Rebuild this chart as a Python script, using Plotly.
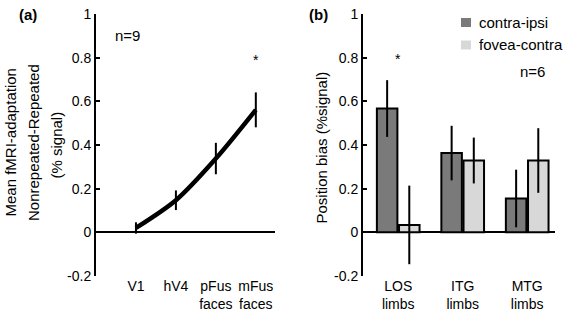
import plotly.graph_objects as go

# ---- Panel (a) data ----
regions_a = ["V1", "hV4", "pFus<br>faces", "mFus<br>faces"]
adapt_mean = [0.02, 0.147, 0.338, 0.561]
adapt_err = [0.026, 0.045, 0.072, 0.08]

# ---- Panel (b) data ----
regions_b = ["LOS<br>limbs", "ITG<br>limbs", "MTG<br>limbs"]
contra_ipsi = [0.567, 0.363, 0.155]
contra_ipsi_err = [0.13, 0.125, 0.132]
fovea_contra = [0.034, 0.329, 0.329]
fovea_contra_err = [0.18, 0.105, 0.148]

ytick_vals = [-0.2, 0, 0.2, 0.4, 0.6, 0.8, 1]
ytick_text = ["-0.2", "0", "0.2", "0.4", "0.6", "0.8", "1"]

W, H = 568, 313
FONT = "Liberation Sans, Arial, Helvetica, sans-serif"
DARK = "#7a7a7a"
LIGHT = "#d8d8d8"

def px(x):
    return x / W

def py(y):
    return 1 - y / H

fig = go.Figure()

fig.add_trace(go.Scatter(
    x=[1, 2, 3, 4], y=adapt_mean, mode="lines",
    line=dict(color="black", width=4.5, shape="spline", smoothing=0.8),
    error_y=dict(type="data", array=adapt_err, color="black", thickness=2, width=0),
    xaxis="x", yaxis="y", showlegend=False, hoverinfo="skip",
))

fig.add_trace(go.Bar(
    x=regions_b, y=contra_ipsi, name="contra-ipsi",
    marker=dict(color=DARK, line=dict(color="black", width=2)),
    error_y=dict(type="data", array=contra_ipsi_err, color="black", thickness=2, width=0),
    xaxis="x2", yaxis="y2", showlegend=False, hoverinfo="skip",
))
fig.add_trace(go.Bar(
    x=regions_b, y=fovea_contra, name="fovea-contra",
    marker=dict(color=LIGHT, line=dict(color="black", width=2)),
    error_y=dict(type="data", array=fovea_contra_err, color="black", thickness=2, width=0),
    xaxis="x2", yaxis="y2", showlegend=False, hoverinfo="skip",
))

ydom = [py(276), py(14)]
yax = dict(
    range=[-0.2, 1], domain=ydom, showgrid=False, automargin=False,
    showline=True, linecolor="black", linewidth=2,
    ticks="inside", ticklen=4, tickwidth=2, tickcolor="black",
    tickvals=ytick_vals, ticktext=ytick_text,
    zeroline=True, zerolinecolor="black", zerolinewidth=2,
    tickfont=dict(size=14, color="black", family=FONT),
)

fig.update_layout(
    width=W, height=H,
    margin=dict(l=0, r=0, t=0, b=0),
    paper_bgcolor="white", plot_bgcolor="white",
    font=dict(family=FONT, size=15, color="black"),
    barmode="group", bargap=0.313, bargroupgap=0.074,
    xaxis=dict(
        domain=[px(96), px(275)], range=[0, 4.48], anchor="y", automargin=False,
        tickvals=[1, 2, 3, 4], ticktext=regions_a,
        showgrid=False, zeroline=False, showline=False, ticks="",
        tickfont=dict(size=14, color="black", family=FONT),
    ),
    yaxis=dict(anchor="x", **yax),
    xaxis2=dict(
        domain=[px(363), px(555)], range=[-0.546, 2.431], anchor="y2",
        type="category", automargin=False,
        showgrid=False, zeroline=False, showline=False, ticks="",
        tickfont=dict(size=14, color="black", family=FONT),
    ),
    yaxis2=dict(anchor="x2", **yax),
)

ann = []
# y-axis titles (panel a)
for txt, xc, yc in [("Mean fMRI-adaptation", 9.5, 143),
                    ("Nonrepeated-Repeated", 33, 143),
                    ("(% signal)", 55.5, 145)]:
    ann.append(dict(text=txt, xref="paper", yref="paper", x=px(xc), y=py(yc),
                    xanchor="center", yanchor="middle", textangle=-90,
                    showarrow=False, font=dict(size=15)))
ann.append(dict(text="Position bias (%signal)", xref="paper", yref="paper",
                x=px(321.5), y=py(148), xanchor="center", yanchor="middle",
                textangle=-90, showarrow=False, font=dict(size=15)))
# panel labels
ann.append(dict(text="<b>(a)</b>", xref="paper", yref="paper", x=px(28), y=py(14),
                xanchor="center", yanchor="middle", showarrow=False, font=dict(size=15)))
ann.append(dict(text="<b>(b)</b>", xref="paper", yref="paper", x=px(318), y=py(14),
                xanchor="center", yanchor="middle", showarrow=False, font=dict(size=15)))
# n labels and significance stars
ann.append(dict(text="n=9", xref="x", yref="y", x=0.78, y=0.9,
                xanchor="center", yanchor="middle", showarrow=False, font=dict(size=15)))
ann.append(dict(text="*", xref="x", yref="y", x=4, y=0.79,
                xanchor="center", yanchor="middle", showarrow=False, font=dict(size=14)))
ann.append(dict(text="n=6", xref="paper", yref="y2", x=px(532), y=0.735,
                xanchor="center", yanchor="middle", showarrow=False, font=dict(size=15)))
ann.append(dict(text="*", xref="x2", yref="y2", x=regions_b[0], y=0.795,
                xanchor="center", yanchor="middle", showarrow=False, font=dict(size=14)))
# legend text
ann.append(dict(text="contra-ipsi", xref="paper", yref="paper", x=px(477), y=py(22.5),
                xanchor="left", yanchor="middle", showarrow=False, font=dict(size=15)))
ann.append(dict(text="fovea-contra", xref="paper", yref="paper", x=px(477), y=py(45),
                xanchor="left", yanchor="middle", showarrow=False, font=dict(size=15)))
fig.update_layout(annotations=ann)

fig.update_layout(shapes=[
    dict(type="rect", xref="paper", yref="paper", x0=px(461), x1=px(471),
         y0=py(27), y1=py(18), fillcolor=DARK, line=dict(width=0)),
    dict(type="rect", xref="paper", yref="paper", x0=px(461), x1=px(471),
         y0=py(49.5), y1=py(40.5), fillcolor=LIGHT, line=dict(width=0)),
])

fig.write_html(
    "out.html",
    config={"displayModeBar": False},
    post_script="document.body.style.margin='0';document.body.style.overflow='hidden';",
)
